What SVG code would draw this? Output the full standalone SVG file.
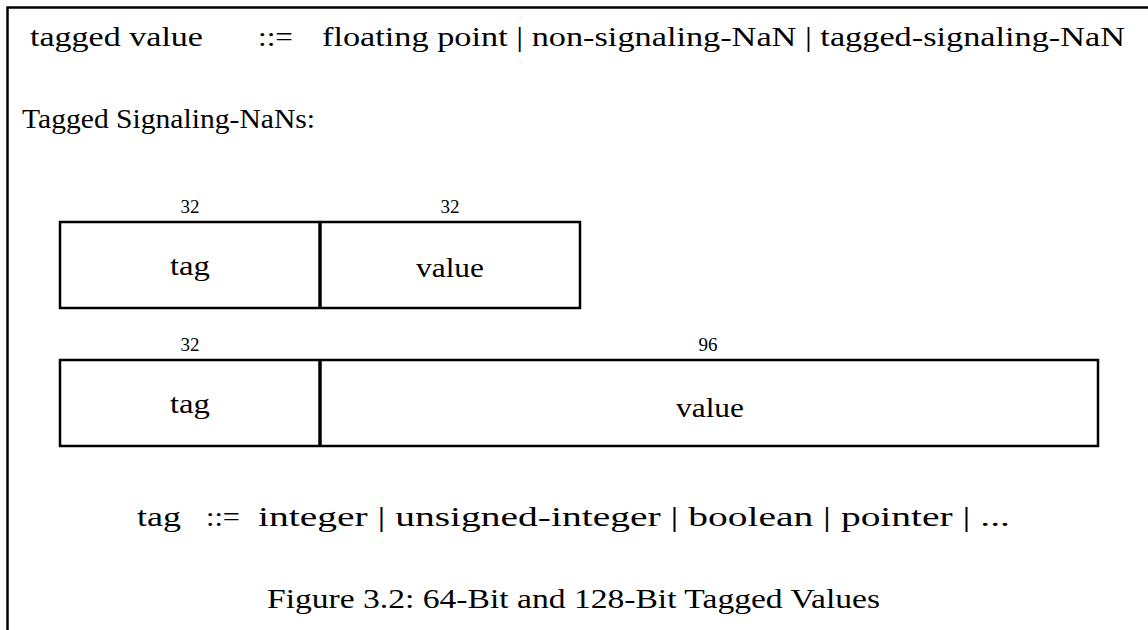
<svg xmlns="http://www.w3.org/2000/svg" width="1148" height="630" viewBox="0 0 1148 630" font-family="Liberation Serif, DejaVu Serif, Times New Roman, serif">
<style>
text{fill:#000}
.t{font-size:27px}
.n{font-size:19px}
.box{fill:none;stroke:#000;stroke-width:2.5}
.div{stroke:#000;stroke-width:3.5}
.frame{stroke:#000;stroke-width:2.5;fill:none}
</style>
<rect width="1148" height="630" fill="#fff"/>
<path class="frame" d="M7.5,630 V7.5 H1148"/>
<g id="grammar1">
<text class="t" x="30" y="46" textLength="173" lengthAdjust="spacingAndGlyphs">tagged value</text>
<text class="t" x="258" y="46" textLength="35" lengthAdjust="spacingAndGlyphs">::=</text>
<text class="t" x="322" y="46" textLength="803" lengthAdjust="spacingAndGlyphs">floating point | non-signaling-NaN | tagged-signaling-NaN</text>
</g>
<g id="heading">
<text class="t" x="22" y="128" textLength="293" lengthAdjust="spacingAndGlyphs">Tagged Signaling-NaNs:</text>
</g>
<g id="word64">
<text class="n" x="190" y="213" text-anchor="middle">32</text>
<text class="n" x="450" y="213" text-anchor="middle">32</text>
<rect class="box" x="60" y="222" width="520" height="86"/>
<line class="div" x1="320" y1="222" x2="320" y2="308"/>
<text class="t" x="190" y="275" text-anchor="middle" textLength="40" lengthAdjust="spacingAndGlyphs">tag</text>
<text class="t" x="450" y="277" text-anchor="middle" textLength="68" lengthAdjust="spacingAndGlyphs">value</text>
</g>
<g id="word128">
<text class="n" x="190" y="351" text-anchor="middle">32</text>
<text class="n" x="708" y="351" text-anchor="middle">96</text>
<rect class="box" x="60" y="360" width="1038" height="86"/>
<line class="div" x1="320" y1="360" x2="320" y2="446"/>
<text class="t" x="190" y="413" text-anchor="middle" textLength="40" lengthAdjust="spacingAndGlyphs">tag</text>
<text class="t" x="710" y="417" text-anchor="middle" textLength="68" lengthAdjust="spacingAndGlyphs">value</text>
</g>
<g id="grammar2">
<text class="t" x="137" y="526" textLength="44" lengthAdjust="spacingAndGlyphs">tag</text>
<text class="t" x="206" y="526" textLength="34" lengthAdjust="spacingAndGlyphs">::=</text>
<text class="t" x="258" y="526" textLength="752" lengthAdjust="spacingAndGlyphs">integer | unsigned-integer | boolean | pointer | ...</text>
</g>
<g id="caption">
<text class="t" x="267" y="608" textLength="613" lengthAdjust="spacingAndGlyphs">Figure 3.2: 64-Bit and 128-Bit Tagged Values</text>
</g>
<g id="connectors"/>
</svg>
